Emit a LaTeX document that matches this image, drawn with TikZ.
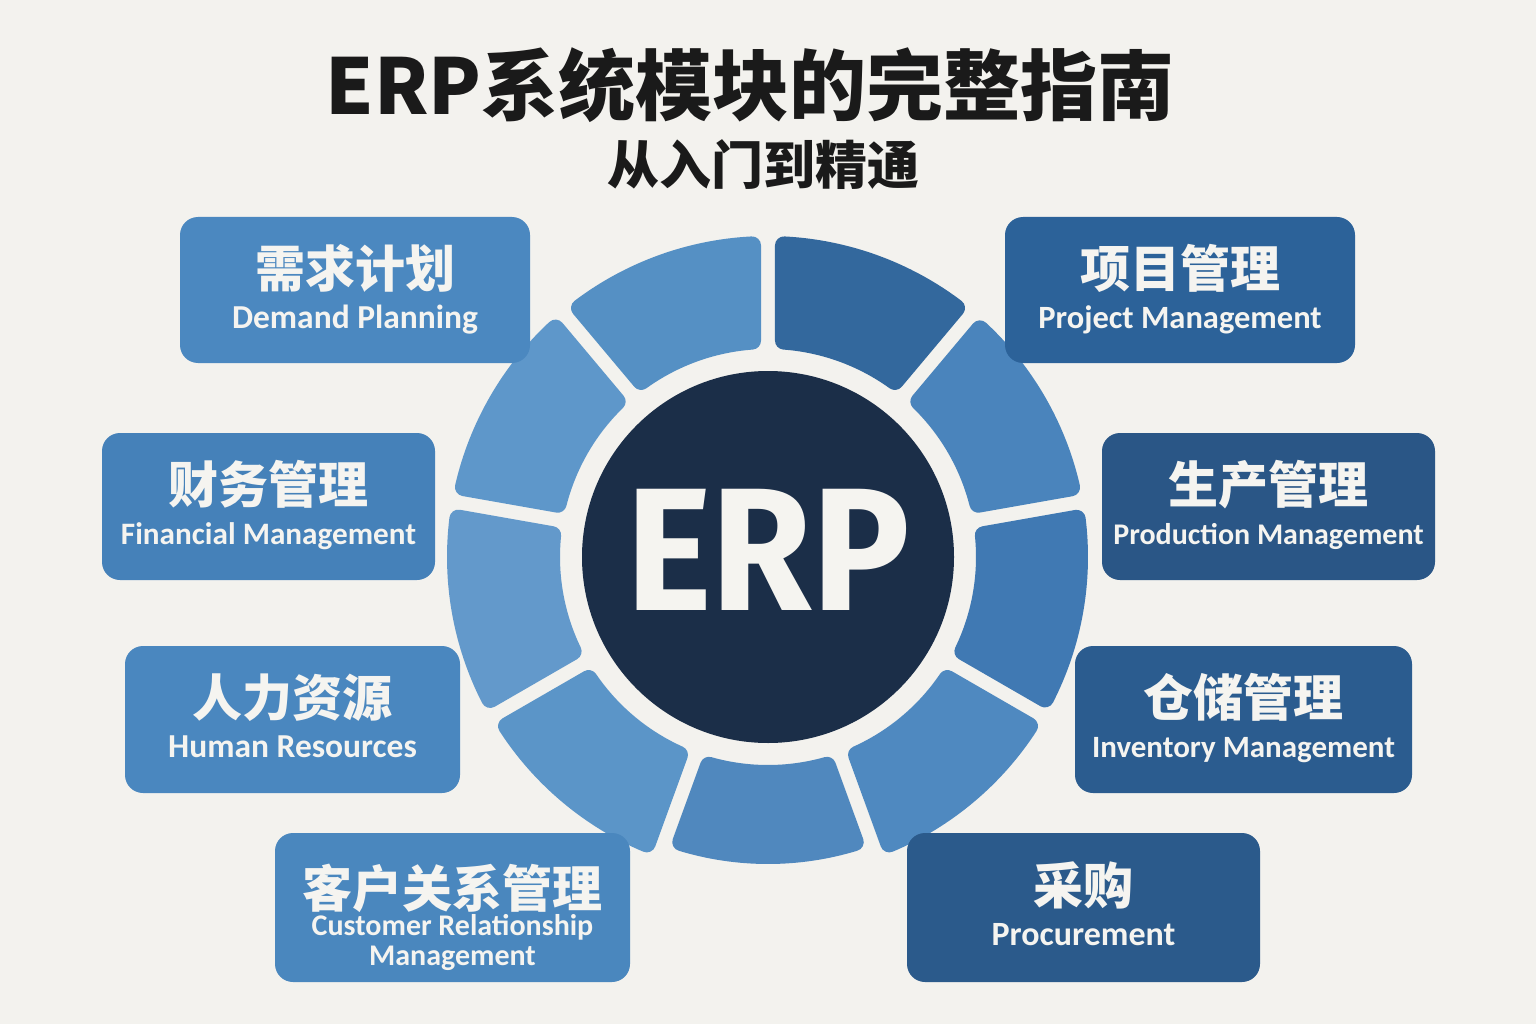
\documentclass[tikz,border=0pt]{standalone}
\usepackage{fontspec}
\setmainfont{Carlito}
\newfontfamily\zhfont{Noto Sans CJK SC}
\newfontfamily\hubfont{Fira Sans}
\usetikzlibrary{positioning}

\definecolor{paper}{HTML}{F3F2EE}
\definecolor{ink}{HTML}{1A1A1A}
\definecolor{hubdark}{HTML}{1B2E48}
\definecolor{txtw}{HTML}{F5F4F0}
%% ring segments, clockwise from the top
\definecolor{segA}{HTML}{33689D}
\definecolor{segB}{HTML}{4A84BC}
\definecolor{segC}{HTML}{4079B3}
\definecolor{segD}{HTML}{4F89C0}
\definecolor{segE}{HTML}{5088BE}
\definecolor{segF}{HTML}{5B95C8}
\definecolor{segG}{HTML}{6399CB}
\definecolor{segH}{HTML}{5E97CA}
\definecolor{segI}{HTML}{5590C4}
%% module boxes
\definecolor{boxDP}{HTML}{4B88C0}
\definecolor{boxPM}{HTML}{2C6299}
\definecolor{boxFM}{HTML}{4581B9}
\definecolor{boxPR}{HTML}{2A5686}
\definecolor{boxHR}{HTML}{4A87BF}
\definecolor{boxIN}{HTML}{2B5C8F}
\definecolor{boxCR}{HTML}{4A87BE}
\definecolor{boxPC}{HTML}{2B5A8B}

\tikzset{
  modbox/.style ={rounded corners=18pt,inner sep=0pt,fill=#1},
  zhlbl/.style  ={font=\zhfont\bfseries\fontsize{50}{50}\selectfont,
                  text=txtw,inner sep=0pt},
  enlbl/.style  ={font=\bfseries\fontsize{#1}{#1}\selectfont,text=txtw,inner sep=0pt},
  enlbl/.default=31,
  seg/.style    ={fill=#1,draw=#1,line width=18pt,line join=round},
}

\begin{document}
\begin{tikzpicture}[x=1pt, y=1pt]

\fill[paper] (0,0) rectangle (1536,-1024);
\useasboundingbox (0,0) rectangle (1536,-1024);

%% ---------------- title ----------------
\node[font=\zhfont\bfseries\fontsize{77}{77}\selectfont,text=ink,inner sep=0pt]
  (title) at (750,-85) {ERP系统模块的完整指南};
\node[font=\zhfont\bfseries\fontsize{52}{52}\selectfont,text=ink,inner sep=0pt]
  (subtitle) at (763,-165) {从入门到精通};

%% ---------------- ring ----------------
%% nine sectors of 40 degrees; corners rounded by the thick stroke
\begin{scope}[shift={(768,-557)}]
\foreach \a/\b/\ro/\col in {50/90/321/segA, 10/50/320/segB, -30/10/320/segC,
    -70/-30/320/segD, -110/-70/307/segE, -150/-110/320/segF,
    -190/-150/321/segG, 130/170/321/segH, 90/130/321/segI}{
  \pgfmathsetmacro{\ri}{217}
  \pgfmathsetmacro{\rr}{\ro-9}
  \pgfmathsetmacro{\din}{16/\ri*57.296}
  \pgfmathsetmacro{\dout}{16/\rr*57.296}
  \path[seg=\col] (\a+\din:\ri) -- (\a+\dout:\rr)
    arc[start angle=\a+\dout, end angle=\b-\dout, radius=\rr]
    -- (\b-\din:\ri)
    arc[start angle=\b-\din, end angle=\a+\din, radius=\ri] -- cycle;
}
\end{scope}

%% ---------------- hub ----------------
\node[circle,fill=hubdark,minimum size=372pt,inner sep=0pt] (hub) at (768,-557) {};
\node[font=\hubfont\bfseries\fontsize{175}{175}\selectfont,text=txtw,inner sep=0pt]
  (erp) at (768,-550) {\scalebox{0.93}[1]{ERP}};

%% ---------------- modules ----------------
\foreach \nm/\cx/\cy/\bw/\bh/\col/\fs/\zh/\en in {
    dp/355/290/350/146/boxDP/33.5/需求计划/Demand Planning,
    pm/1180/290/350/146/boxPM/32.5/项目管理/Project Management,
    fm/268.5/506.5/333/147/boxFM/31.2/财务管理/Financial Management,
    pr/1268.5/506.5/333/147/boxPR/30/生产管理/Production Management,
    hr/292.5/719.5/335/147/boxHR/33.5/人力资源/Human Resources,
    in/1243.5/719.5/337/147/boxIN/31/仓储管理/Inventory Management,
    pc/1083.5/907.5/353/149/boxPC/34/采购/Procurement}{
  \node[modbox=\col,minimum width=\bw pt,minimum height=\bh pt]
    (\nm) at (\cx,-\cy) {};
  \node[zhlbl] (\nm zh) at (\cx,-\cy+22) {\zh};
  \node[enlbl=\fs,anchor=base] (\nm en) at (\cx,-\cy-38) {\en};
}

%% customer relationship: two english lines
\node[modbox=boxCR,minimum width=355pt,minimum height=149pt] (cr) at (452.5,-907.5) {};
\node[zhlbl] (crzh) at (452.5,-888) {客户关系管理};
\node[enlbl=30,anchor=base] (cren1) at (452.5,-935) {Customer Relationship};
\node[enlbl=30,anchor=base] (cren2) at (452.5,-965) {Management};

\end{tikzpicture}
\end{document}
